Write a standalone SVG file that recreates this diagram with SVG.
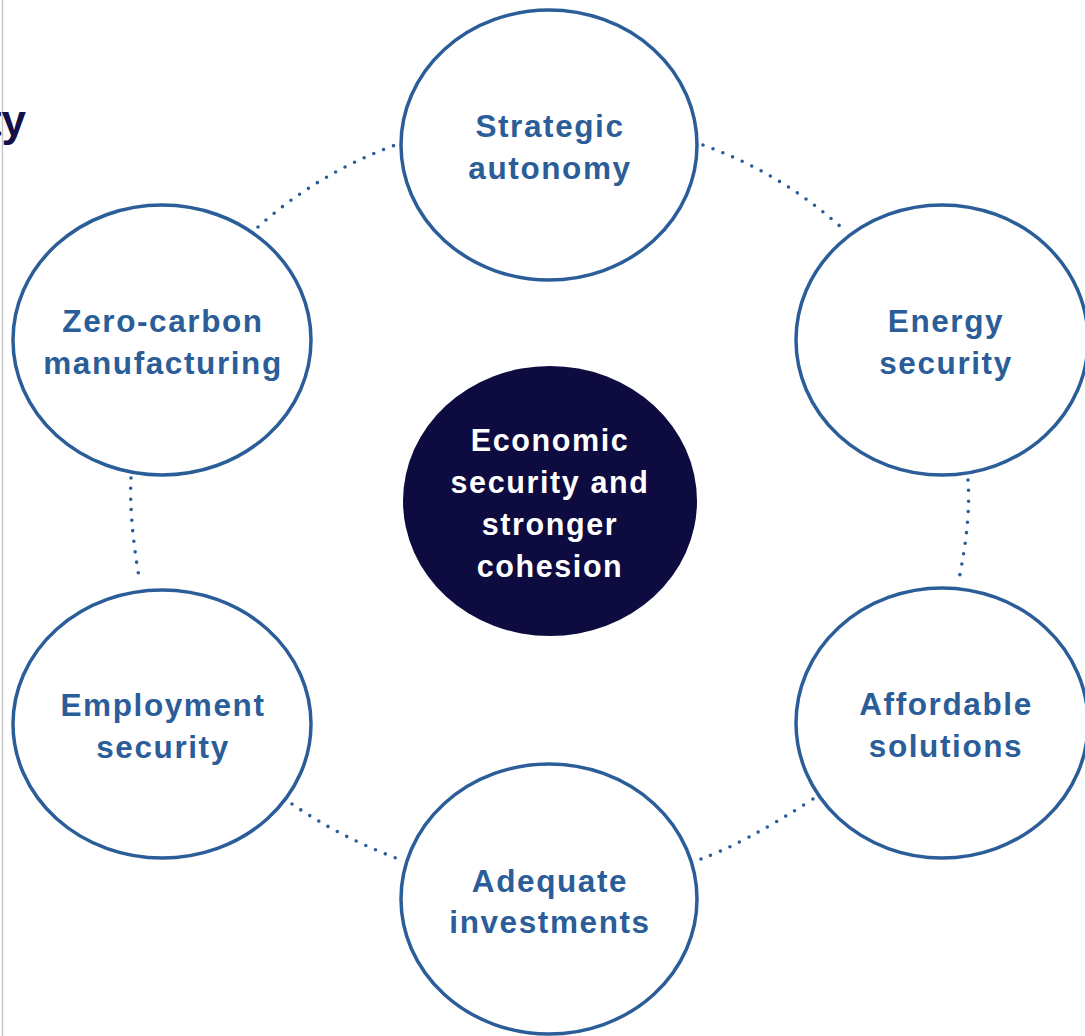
<svg xmlns="http://www.w3.org/2000/svg" width="1085" height="1036" viewBox="0 0 1085 1036">
<style>
.ring{fill:#ffffff;stroke:#2b5d99;stroke-width:3.5}
.core{fill:#0d0b3f;stroke:none}
.lbl{font-family:"Liberation Sans",Arial,sans-serif;font-weight:700;font-size:31.5px;letter-spacing:1.6px;fill:#2b5d99;text-anchor:middle}
.lblw{font-family:"Liberation Sans",Arial,sans-serif;font-weight:700;font-size:30.5px;letter-spacing:1.6px;fill:#ffffff;text-anchor:middle}
.dots{fill:none;stroke:#2b5d99;stroke-width:3.6;stroke-linecap:round;stroke-dasharray:0 10.6}
</style>
<rect x="0" y="0" width="1085" height="1036" fill="#ffffff"/>
<line x1="2.5" y1="0" x2="2.5" y2="1036" stroke="#c8c8c8" stroke-width="1.5"/>
<text x="26" y="136" font-family="Liberation Sans,Arial,sans-serif" font-weight="700" font-size="44" fill="#13104a" text-anchor="end">ty</text>
<g id="connectors">
<path class="dots" d="M258 227 Q318 173 398 144"/>
<path class="dots" d="M703 145 Q781 173 842 228"/>
<path class="dots" d="M968 480 Q971 520 959 579"/>
<path class="dots" d="M131 478 Q129 518 139 577"/>
<path class="dots" d="M292 804 Q340 837 396 858"/>
<path class="dots" d="M701 859 Q745 843 813 799"/>
</g>
<g id="strategic-autonomy">
<ellipse class="ring" cx="549" cy="145" rx="148" ry="135"/>
<text class="lbl" x="550" y="137">Strategic</text>
<text class="lbl" x="550" y="179">autonomy</text>
</g>
<g id="energy-security">
<ellipse class="ring" cx="942" cy="340" rx="146" ry="135"/>
<text class="lbl" x="946" y="332">Energy</text>
<text class="lbl" x="946" y="374">security</text>
</g>
<g id="zero-carbon-manufacturing">
<ellipse class="ring" cx="162" cy="340" rx="149" ry="135"/>
<text class="lbl" x="163" y="332">Zero-carbon</text>
<text class="lbl" x="163" y="374">manufacturing</text>
</g>
<g id="employment-security">
<ellipse class="ring" cx="162" cy="724" rx="149" ry="134"/>
<text class="lbl" x="163" y="716">Employment</text>
<text class="lbl" x="163" y="758">security</text>
</g>
<g id="affordable-solutions">
<ellipse class="ring" cx="942" cy="723" rx="146" ry="135"/>
<text class="lbl" x="946" y="715">Affordable</text>
<text class="lbl" x="946" y="757">solutions</text>
</g>
<g id="adequate-investments">
<ellipse class="ring" cx="549" cy="899" rx="148" ry="135"/>
<text class="lbl" x="550" y="892">Adequate</text>
<text class="lbl" x="550" y="933">investments</text>
</g>
<g id="economic-security">
<ellipse class="core" cx="550" cy="501" rx="147" ry="135"/>
<text class="lblw" x="550" y="451">Economic</text>
<text class="lblw" x="550" y="493">security and</text>
<text class="lblw" x="550" y="535">stronger</text>
<text class="lblw" x="550" y="577">cohesion</text>
</g>
</svg>
